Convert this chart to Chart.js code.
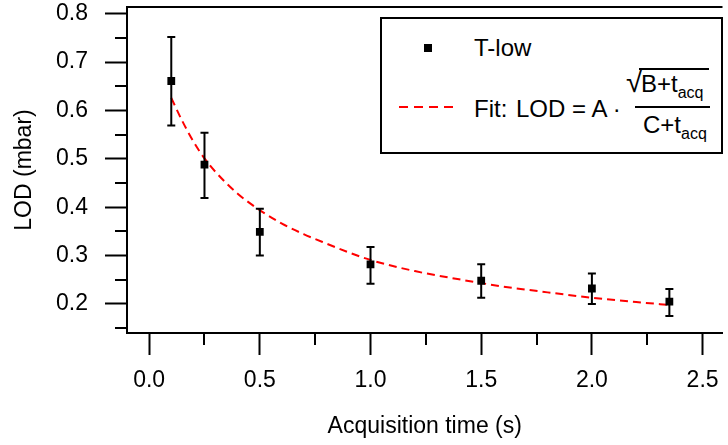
<!DOCTYPE html>
<html>
<head>
<meta charset="utf-8">
<script src="https://cdn.jsdelivr.net/npm/chart.js@4.4.1/dist/chart.umd.min.js"></script>
<style>
html, body { margin: 0; padding: 0; overflow: hidden; background: #fff; }
#wrap { position: relative; width: 728px; height: 445px; }
#legend {
	position: absolute; left: 380px; top: 17px; width: 343px; height: 137px;
	box-sizing: border-box; border: 2px solid #000; background: #fff;
	font-family: 'Liberation Sans', Arial, sans-serif; font-size: 24px; color: #000;
}
#legend .t { position: absolute; white-space: nowrap; line-height: 1; }
#legend .sub { font-size: 16px; position: relative; top: 6px; }
#legend .mark { position: absolute; left: 42px; top: 25px; width: 8px; height: 8px; background: #000; }
#legend .dash {
	position: absolute; left: 17px; top: 87px; width: 54px; height: 2px;
	background: repeating-linear-gradient(to right, #ff0000 0 9px, transparent 9px 15px);
}
#legend .bar { position: absolute; left: 253px; top: 87px; width: 75px; height: 2px; background: #000; }
#legend .over { position: absolute; left: 257px; top: 49px; width: 70px; height: 2px; background: #000; }
</style>
</head>
<body>
<div id="wrap">
	<canvas id="graph" width="728" height="445"></canvas>
	<div id="legend">
		<div class="mark"></div>
		<span class="t" style="left:92px; top:17px;">T-low</span>
		<div class="dash"></div>
		<span class="t" style="left:92px; top:78px;">Fit:</span>
		<span class="t" style="left:134px; top:78px;">LOD = A ·</span>
		<span class="t" style="left:244px; top:48px; font-size:30px;">√</span>
		<div class="over"></div>
		<span class="t" style="left:259px; top:53px;">B+t<span class="sub">acq</span></span>
		<div class="bar"></div>
		<span class="t" style="left:261px; top:94px;">C+t<span class="sub">acq</span></span>
	</div>
</div>
<script>
// measured points (T-low)
var tData = [0.1, 0.25, 0.5, 1.0, 1.5, 2.0, 2.35];
var lodData = [0.661, 0.488, 0.349, 0.282, 0.248, 0.232, 0.205];
var errHigh = [0.752, 0.554, 0.397, 0.318, 0.282, 0.263, 0.231];
var errLow = [0.569, 0.419, 0.300, 0.242, 0.213, 0.200, 0.175];

// fit curve
var fitT = [0.1, 0.15, 0.2, 0.25, 0.3, 0.4, 0.5, 0.6, 0.7, 0.8, 0.9, 1.0, 1.2, 1.4, 1.6, 1.8, 2.0, 2.2, 2.35];
var fitLOD = [0.626, 0.578, 0.536, 0.501, 0.473, 0.428, 0.394, 0.366, 0.344, 0.325, 0.307, 0.291, 0.268, 0.251, 0.236, 0.224, 0.213, 0.204, 0.198];

// ticks
var xMajor = [0, 0.5, 1.0, 1.5, 2.0, 2.5];
var xMinor = [0.25, 0.75, 1.25, 1.75, 2.25];
var yMajor = [0.2, 0.3, 0.4, 0.5, 0.6, 0.7, 0.8];
var yMinor = [0.15, 0.25, 0.35, 0.45, 0.55, 0.65, 0.75];

var police = { family: "'Liberation Sans', Arial, sans-serif", size: 23 };

// error bars, minor ticks and the top frame line
var cadre = {
	id: 'cadre',
	afterDatasetDraw: function(chart, args){
		if (args.index !== 1) return;
		var ctx = chart.ctx, x = chart.scales.x, y = chart.scales.y;
		ctx.save();
		ctx.strokeStyle = '#000';
		ctx.lineWidth = 2;
		for (var i = 0; i < tData.length; i++){
			var px = x.getPixelForValue(tData[i]);
			var top = y.getPixelForValue(errHigh[i]);
			var bot = y.getPixelForValue(errLow[i]);
			ctx.beginPath();
			ctx.moveTo(px, top); ctx.lineTo(px, bot);
			ctx.moveTo(px - 4, top); ctx.lineTo(px + 4, top);
			ctx.moveTo(px - 4, bot); ctx.lineTo(px + 4, bot);
			ctx.stroke();
		}
		ctx.restore();
	},
	afterDraw: function(chart){
		var ctx = chart.ctx, x = chart.scales.x, y = chart.scales.y, area = chart.chartArea;
		ctx.save();
		ctx.strokeStyle = '#000';
		ctx.lineWidth = 2;
		ctx.beginPath();
		for (var i = 0; i < xMinor.length; i++){
			var px = Math.round(x.getPixelForValue(xMinor[i]));
			ctx.moveTo(px, area.bottom); ctx.lineTo(px, area.bottom + 12);
		}
		for (var j = 0; j < yMinor.length; j++){
			var py = Math.round(y.getPixelForValue(yMinor[j]));
			ctx.moveTo(area.left, py); ctx.lineTo(area.left - 12, py);
		}
		ctx.moveTo(area.left, area.top); ctx.lineTo(area.right, area.top);
		ctx.stroke();
		ctx.restore();
	}
};

function graphique(id){
	var ctx = document.getElementById(id).getContext('2d');
	var myChart = new Chart(ctx, {
		type: 'scatter',
		data: {
			datasets: [{
				label: 'T-low',
				data: tData.map(function(t, i){ return { x: t, y: lodData[i] }; }),
				pointStyle: 'rect',
				pointRadius: 5.5,
				pointBackgroundColor: '#000',
				pointBorderColor: '#000',
				pointBorderWidth: 0,
				showLine: false
			}, {
				label: 'Fit',
				data: fitT.map(function(t, i){ return { x: t, y: fitLOD[i] }; }),
				showLine: true,
				borderColor: '#ff0000',
				borderWidth: 2,
				borderDash: [8, 5],
				pointRadius: 0,
				cubicInterpolationMode: 'monotone',
				fill: false
			}]
		},
		options: {
			responsive: false,
			animation: false,
			devicePixelRatio: 1,
			layout: { padding: { top: 7, left: 0, right: 0, bottom: 0 } },
			plugins: { legend: { display: false }, tooltip: { enabled: false } },
			scales: {
				x: {
					type: 'linear', min: -0.1, max: 2.59,
					afterBuildTicks: function(s){ s.ticks = xMajor.map(function(v){ return { value: v }; }); },
					afterFit: function(s){ s.height = 112; s.paddingLeft = 0; s.paddingRight = 0; },
					ticks: { callback: function(v){ return v.toFixed(1); }, font: police, color: '#000', padding: 12, maxRotation: 0, autoSkip: false },
					grid: { drawOnChartArea: false, drawTicks: true, tickLength: 22, tickWidth: 2, tickColor: '#000' },
					border: { display: true, color: '#000', width: 2 },
					title: { display: true, text: 'Acquisition time (s)', font: police, color: '#000', padding: { top: 0, bottom: 5 } }
				},
				y: {
					type: 'linear', min: 0.14, max: 0.814,
					afterBuildTicks: function(s){ s.ticks = yMajor.map(function(v){ return { value: v }; }); },
					afterFit: function(s){ s.width = 127; s.paddingTop = 0; s.paddingBottom = 0; },
					ticks: { callback: function(v){ return v.toFixed(1); }, font: police, color: '#000', padding: 17, autoSkip: false },
					grid: { drawOnChartArea: false, drawTicks: true, tickLength: 22, tickWidth: 2, tickColor: '#000' },
					border: { display: true, color: '#000', width: 2 },
					title: { display: true, text: 'LOD (mbar)', font: police, color: '#000', padding: { top: 11, bottom: 0 } }
				}
			}
		},
		plugins: [cadre]
	});
}

graphique('graph');
</script>
</body>
</html>
